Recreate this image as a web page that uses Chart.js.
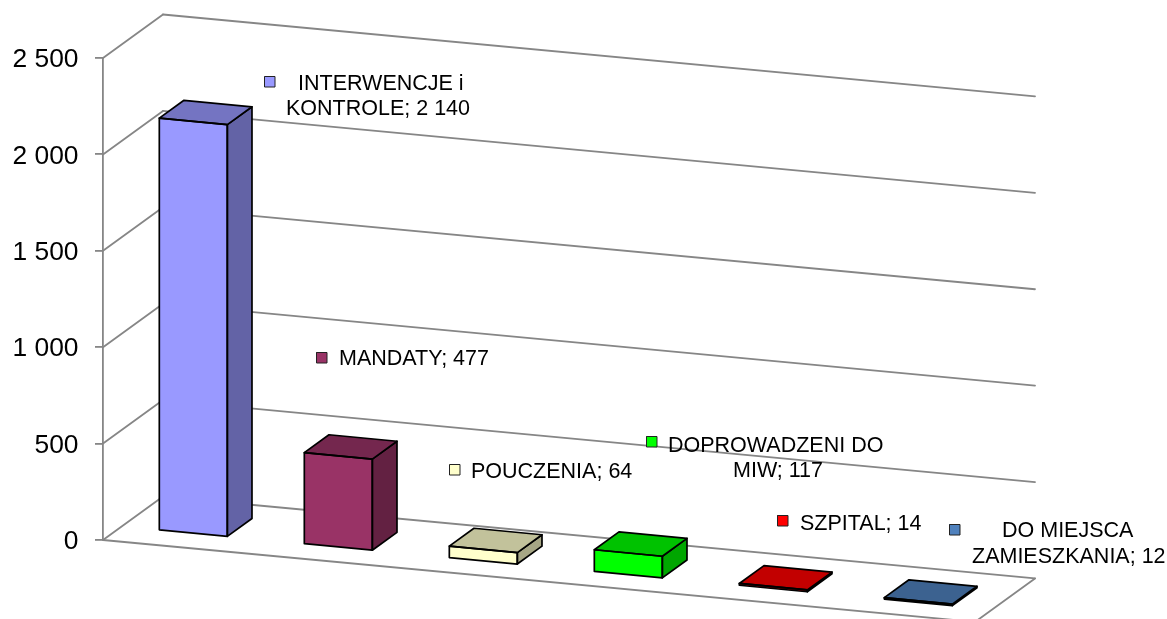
<!DOCTYPE html>
<html><head><meta charset="utf-8">
<style>html,body{margin:0;padding:0;background:#fff}canvas{display:block}</style>
<script src="https://cdn.jsdelivr.net/npm/chart.js@4"></script>
</head><body><canvas id="c" width="1167" height="619"></canvas>
<script>
const categories = [["INTERWENCJE i","KONTROLE"],["MANDATY"],["POUCZENIA"],["DOPROWADZENI DO","MIW"],["SZPITAL"],["DO MIEJSCA","ZAMIESZKANIA"]];
const values = [2140,477,64,117,14,12];
const barColors = ["#9999FF","#993366","#FFFFCC","#00FF00","#FF0000","#4F81BD"];
const yTicks = [0,500,1000,1500,2000,2500];

const FONT = '"Liberation Sans", Arial, sans-serif';
const GRID = '#868686';
const SLOPE = 0.094, BAR_SLOPE = 0.0955, DX = 60, DY = -43.5, T0 = 0.297, T1 = 0.708;
const fmt = v => String(v).replace(/\B(?=(\d{3})+$)/g,' ');
const shade = (hex,k) => { const n=parseInt(hex.slice(1),16);
  return `rgb(${Math.round((n>>16&255)*k)},${Math.round((n>>8&255)*k)},${Math.round((n&255)*k)})`; };

const poly = (ctx,pts,fill,stroke,lw) => { ctx.beginPath(); pts.forEach((p,i)=>i?ctx.lineTo(p[0],p[1]):ctx.moveTo(p[0],p[1])); ctx.closePath();
  if(fill){ctx.fillStyle=fill;ctx.fill();} if(stroke){ctx.strokeStyle=stroke;ctx.lineWidth=lw;ctx.lineJoin='round';ctx.stroke();} };

// key square and text line anchors for each data label
const keyBoxes = [[264,76],[316,352],[449,464],[646,436],[777,515],[949,524]];
const lineAnchors = [[[298,84],[286,109]],[[339,359]],[[471,472]],[[668,446],[733,471]],[[800,524]],[[1002,531],[972,557]]];

const threeD = {
  id:'threeD',
  beforeDatasetsDraw(chart){
    const {ctx,chartArea:a,scales:{y}} = chart;
    const L=a.left, R=a.right;
    ctx.save();
    ctx.strokeStyle=GRID; ctx.lineWidth=1.8; ctx.lineCap='round';
    const seg=(x1,y1,x2,y2)=>{ctx.beginPath();ctx.moveTo(x1,y1);ctx.lineTo(x2,y2);ctx.stroke();};
    const wallW = R-L+2;
    yTicks.forEach(v=>{
      const py=y.getPixelForValue(v);
      seg(L,py,L+DX,py+DY);
      seg(L+DX,py+DY,L+DX+wallW,py+DY+wallW*SLOPE);
    });
    const py=y.getPixelForValue(0);
    seg(L,py,L+wallW,py+wallW*SLOPE);
    seg(L+wallW,py+wallW*SLOPE,L+wallW+DX,py+DY+wallW*SLOPE);
    ctx.restore();
  },
  beforeDatasetDraw(chart){
    const {ctx,chartArea:a}=chart;
    ctx.save();
    ctx.transform(1,BAR_SLOPE,0,1,DX*T0,-BAR_SLOPE*a.left+DY*T0);
  },
  afterDatasetDraw(chart,args){
    const {ctx,chartArea:a}=chart;
    ctx.restore();
    const proj=(x,y,t)=>[x+DX*t, y+BAR_SLOPE*(x-a.left)+DY*t];
    args.meta.data.forEach((el,i)=>{
      const p=el.getProps(['x','y','base','width'],true);
      const l=p.x-p.width/2, r=p.x+p.width/2, c=barColors[i];
      poly(ctx,[proj(r,p.base,T0),proj(r,p.y,T0),proj(r,p.y,T1),proj(r,p.base,T1)],shade(c,.65),'#000',1.7);
      poly(ctx,[proj(l,p.y,T0),proj(r,p.y,T0),proj(r,p.y,T1),proj(l,p.y,T1)],shade(c,.76),'#000',1.7);
      poly(ctx,[proj(l,p.base,T0),proj(r,p.base,T0),proj(r,p.y,T0),proj(l,p.y,T0)],null,'#000',1.7);
    });
  },
  afterDraw(chart){
    const {ctx}=chart;
    ctx.save();
    ctx.font='21.5px '+FONT; ctx.fillStyle='#000'; ctx.textBaseline='middle'; ctx.textAlign='left';
    categories.forEach((lines,i)=>{
      const [kx,ky]=keyBoxes[i];
      ctx.fillStyle=barColors[i]; ctx.fillRect(kx,ky,11,11);
      ctx.strokeStyle='#222'; ctx.lineWidth=1; ctx.strokeRect(kx+.5,ky+.5,10.5,10.5);
      ctx.fillStyle='#000';
      lines.forEach((t,j)=>{
        const s = j===lines.length-1 ? `${t}; ${fmt(values[i])}` : t;
        ctx.fillText(s,lineAnchors[i][j][0],lineAnchors[i][j][1]);
      });
    });
    ctx.restore();
  }
};

new Chart(document.getElementById('c'),{
  type:'bar',
  data:{labels:categories.map(c=>c.join(' ')),
    datasets:[{data:values,backgroundColor:barColors,borderWidth:0,inflateAmount:0,
      categoryPercentage:0.469,barPercentage:1,clip:false}]},
  options:{responsive:false,animation:false,
    layout:{autoPadding:false,padding:{top:58,bottom:79,left:0,right:194}},
    plugins:{legend:{display:false},tooltip:{enabled:false},title:{display:false}},
    scales:{
      x:{display:false},
      y:{min:0,max:2500,
        afterFit(s){s.width=103;},
        afterBuildTicks(s){s.ticks=yTicks.map(v=>({value:v}));},
        ticks:{padding:16.5,labelOffset:2,color:'#000',font:{family:FONT,size:26.4},callback:v=>fmt(v)},
        grid:{drawOnChartArea:false,drawTicks:true,tickLength:8,tickColor:GRID,lineWidth:1.8},
        border:{display:true,color:GRID,width:1.8}
      }
    }
  },
  plugins:[threeD]
});
</script></body></html>
